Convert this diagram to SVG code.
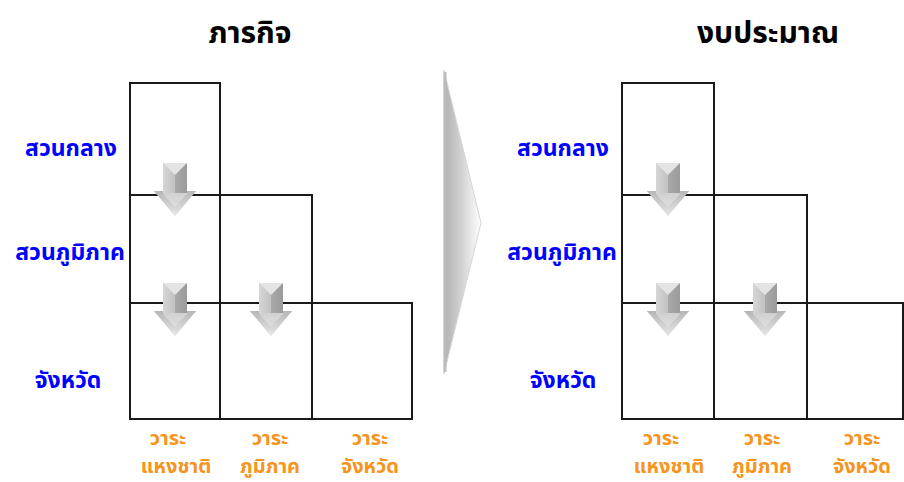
<svg xmlns="http://www.w3.org/2000/svg" width="904" height="482" viewBox="0 0 904 482">
<defs>
<linearGradient id="chev" x1="0" y1="0" x2="1" y2="0">
<stop offset="0" stop-color="#b0b0b0"/>
<stop offset="0.55" stop-color="#d8d8d8"/>
<stop offset="1" stop-color="#ffffff"/>
</linearGradient>
<linearGradient id="shaft" x1="0" y1="0" x2="1" y2="0">
<stop offset="0" stop-color="#d6d6d6"/>
<stop offset="0.5" stop-color="#c2c2c2"/>
<stop offset="0.52" stop-color="#a9a9a9"/>
<stop offset="1" stop-color="#9a9a9a"/>
</linearGradient>
<linearGradient id="head" x1="0" y1="0" x2="0" y2="1">
<stop offset="0" stop-color="#b4b4b4"/>
<stop offset="1" stop-color="#e6e6e6"/>
</linearGradient>
<g id="arrow">
<polygon points="-12,0 12,0 12,28 21,28 0,53 -21,28 -12,28" fill="url(#head)"/>
<rect x="-12" y="0" width="24" height="30" fill="url(#shaft)"/>
<polygon points="-12,0 12,0 0,12" fill="#e4e4e4"/>
<polygon points="-21,28 -12,28 -12,31 0,44 12,31 12,28 21,28 0,53" fill="url(#head)" opacity="0.9"/>
</g>
</defs>
<style>
.cell{fill:none;stroke:#1a1a1a;stroke-width:2}
.title{font-family:Tahoma,"Noto Sans Thai","Noto Sans","DejaVu Sans",sans-serif;font-weight:bold;font-size:30px;fill:#000;text-anchor:middle}
.row{font-family:Tahoma,"Noto Sans Thai","Noto Sans","DejaVu Sans",sans-serif;font-weight:bold;font-size:23px;fill:#0000ff;text-anchor:middle}
.col{font-family:Tahoma,"Noto Sans Thai","Noto Sans","DejaVu Sans",sans-serif;font-weight:bold;font-size:20px;fill:#f7941d;text-anchor:middle}
</style>
<rect width="904" height="482" fill="#ffffff"/>

<g id="title-left"><text class="title" x="250" y="43">ภารกิจ</text></g>
<g id="title-right"><text class="title" x="768" y="43">งบประมาณ</text></g>

<g id="chevron">
<polygon points="444,70 481,223 444,374" fill="url(#chev)" stroke="#d6d6d6" stroke-width="1"/>
<line x1="445" y1="72" x2="445" y2="372" stroke="#bcbcbc" stroke-width="3"/>
</g>

<g id="grid-left">
<rect class="cell" x="130" y="83" width="90" height="112"/>
<rect class="cell" x="130" y="195" width="90" height="108"/>
<rect class="cell" x="220" y="195" width="92" height="108"/>
<rect class="cell" x="130" y="303" width="90" height="116"/>
<rect class="cell" x="220" y="303" width="92" height="116"/>
<rect class="cell" x="312" y="303" width="100" height="116"/>
</g>
<g id="grid-right">
<rect class="cell" x="622" y="83" width="92" height="112"/>
<rect class="cell" x="622" y="195" width="92" height="108"/>
<rect class="cell" x="714" y="195" width="93" height="108"/>
<rect class="cell" x="622" y="303" width="92" height="116"/>
<rect class="cell" x="714" y="303" width="93" height="116"/>
<rect class="cell" x="807" y="303" width="96" height="116"/>
</g>

<g id="connectors">
<use href="#arrow" x="175" y="163"/>
<use href="#arrow" x="175" y="283"/>
<use href="#arrow" x="271" y="283"/>
<use href="#arrow" x="668" y="163"/>
<use href="#arrow" x="668" y="283"/>
<use href="#arrow" x="765" y="283"/>
</g>

<g id="labels-left">
<text class="row" x="71" y="156">สวนกลาง</text>
<text class="row" x="70" y="260">สวนภูมิภาค</text>
<text class="row" x="68" y="388">จังหวัด</text>
<text class="col" y="445"><tspan x="168">วาระ</tspan><tspan x="176" y="473">แหงชาติ</tspan></text>
<text class="col" y="445"><tspan x="270">วาระ</tspan><tspan x="270" y="473">ภูมิภาค</tspan></text>
<text class="col" y="445"><tspan x="370">วาระ</tspan><tspan x="370" y="473">จังหวัด</tspan></text>
</g>
<g id="labels-right">
<text class="row" x="563" y="156">สวนกลาง</text>
<text class="row" x="562" y="260">สวนภูมิภาค</text>
<text class="row" x="563" y="388">จังหวัด</text>
<text class="col" y="445"><tspan x="661">วาระ</tspan><tspan x="669" y="473">แหงชาติ</tspan></text>
<text class="col" y="445"><tspan x="762">วาระ</tspan><tspan x="762" y="473">ภูมิภาค</tspan></text>
<text class="col" y="445"><tspan x="862">วาระ</tspan><tspan x="862" y="473">จังหวัด</tspan></text>
</g>
</svg>
